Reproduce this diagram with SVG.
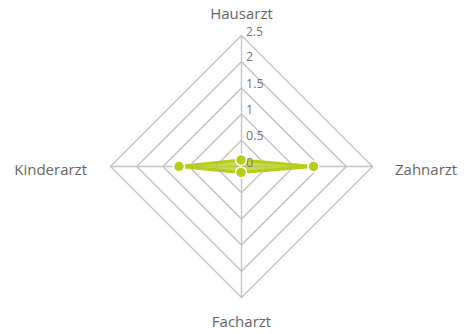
<svg xmlns="http://www.w3.org/2000/svg" width="466" height="334" viewBox="0 0 466 334">
<style>
.grid{fill:none;stroke:#c4c4c4;stroke-width:1.4}
.tick{font-family:"Open Sans","DejaVu Sans",sans-serif;font-size:12.5px;fill:#767676}
.cat{font-family:"Open Sans","DejaVu Sans",sans-serif;font-size:15px;fill:#666666}
.pt{fill:#b7cd1c;stroke:#ffffff;stroke-width:1.5}
</style>
<rect width="466" height="334" fill="#ffffff"/>
<g id="grid">
<polygon class="grid" points="241.5,140.3 267.7,166.5 241.5,192.7 215.3,166.5"/>
<polygon class="grid" points="241.5,114.1 293.9,166.5 241.5,218.9 189.1,166.5"/>
<polygon class="grid" points="241.5,87.9 320.1,166.5 241.5,245.1 162.9,166.5"/>
<polygon class="grid" points="241.5,61.7 346.3,166.5 241.5,271.3 136.7,166.5"/>
<polygon class="grid" points="241.5,35.5 372.5,166.5 241.5,297.5 110.5,166.5"/>
<line class="grid" x1="241.5" y1="166.5" x2="241.5" y2="35.5"/>
<line class="grid" x1="241.5" y1="166.5" x2="372.5" y2="166.5"/>
<line class="grid" x1="241.5" y1="166.5" x2="241.5" y2="297.5"/>
<line class="grid" x1="241.5" y1="166.5" x2="110.5" y2="166.5"/>
</g>
<g id="series">
<polygon points="241,160 313.5,166.5 241,172.5 179,166.5" fill="#b7cd1c" fill-opacity="0.75" stroke="#b7cd1c" stroke-width="3" stroke-linejoin="round"/>
</g>
<g id="ticks">
<text class="tick" x="246" y="36" style="font-size:12px">2.5</text>
<text class="tick" x="246" y="61">2</text>
<text class="tick" x="246" y="88">1.5</text>
<text class="tick" x="246" y="114">1</text>
<text class="tick" x="246" y="140">0.5</text>
<text class="tick" x="246" y="167">0</text>
</g>
<g id="node-hausarzt">
<circle class="pt" cx="241" cy="160" r="5.5"/>
<text class="cat" x="241.5" y="18.5" text-anchor="middle">Hausarzt</text>
</g>
<g id="node-zahnarzt">
<circle class="pt" cx="313.5" cy="166.5" r="5.5"/>
<text class="cat" x="395" y="175">Zahnarzt</text>
</g>
<g id="node-facharzt">
<circle class="pt" cx="241" cy="172.5" r="5.5"/>
<text class="cat" x="241.5" y="327" text-anchor="middle">Facharzt</text>
</g>
<g id="node-kinderarzt">
<circle class="pt" cx="179" cy="166.5" r="5.5"/>
<text class="cat" x="87" y="175" text-anchor="end">Kinderarzt</text>
</g>
</svg>
